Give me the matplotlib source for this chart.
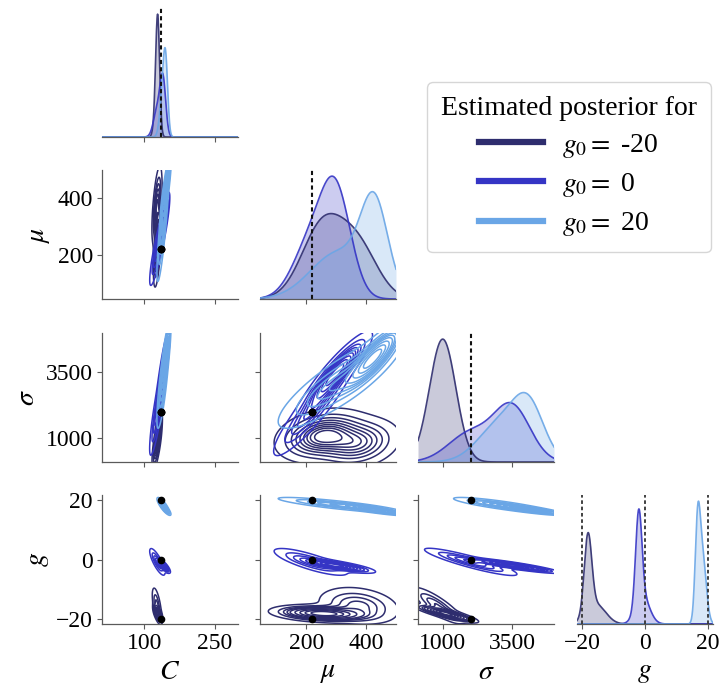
import numpy as np
import matplotlib
matplotlib.use('Agg')
import matplotlib.pyplot as plt
from matplotlib.lines import Line2D

plt.rcParams['font.family'] = ['Liberation Serif', 'DejaVu Serif']
plt.rcParams['mathtext.fontset'] = 'stix'

# parameters of the corner plot
param_labels = [r'$C$', r'$\mu$', r'$\sigma$', r'$g$']
limits = [(10, 300), (45, 500), (100, 5000), (-21.7, 21.7)]
ticks = [[100, 250], [200, 400], [1000, 3500], [-20, 0, 20]]

# true parameter values (g0 differs per run)
true_C = 135
true_mu = 220
true_sigma = 2000
g0_values = [-20, 0, 20]

series_labels = [r'$g_0 =$ -20', r'$g_0 =$ 0', r'$g_0 =$ 20']
colors = ['#2e2d6e', '#3535c5', '#6aa6e6']

# estimated posteriors, each as a two-component gaussian mixture over (C, mu, sigma, g)
weights_m20 = [0.62, 0.38]
means_m20 = [[129, 255, 1100, -18.2], [127, 375, 800, -15.5]]
sds_m20 = [[4, 70, 450, 1.2], [5, 65, 450, 3.0]]
corr_m20 = [[1.0, 0.6, 0.7, -0.6],
            [0.6, 1.0, 0.25, -0.25],
            [0.7, 0.25, 1.0, -0.85],
            [-0.6, -0.25, -0.85, 1.0]]

weights_0 = [0.6, 0.4]
means_0 = [[140, 300, 3500, -2.0], [128, 215, 2000, -0.8]]
sds_0 = [[6, 50, 650, 1.0], [8, 60, 800, 2.2]]
corr_0 = [[1.0, 0.85, 0.85, -0.8],
          [0.85, 1.0, 0.9, -0.8],
          [0.85, 0.9, 1.0, -0.9],
          [-0.8, -0.8, -0.9, 1.0]]

weights_20 = [0.46, 0.54]
means_20 = [[146, 428, 4100, 16.8], [140, 310, 3100, 18.3]]
sds_20 = [[4.5, 45, 550, 0.8], [6, 95, 800, 1.2]]
corr_20 = [[1.0, 0.85, 0.8, -0.8],
           [0.85, 1.0, 0.85, -0.85],
           [0.8, 0.85, 1.0, -0.85],
           [-0.8, -0.85, -0.85, 1.0]]

posteriors = [
    (weights_m20, means_m20, sds_m20, corr_m20),
    (weights_0, means_0, sds_0, corr_0),
    (weights_20, means_20, sds_20, corr_20),
]


def fix_corr(c):
    c = np.asarray(c, float)
    w, v = np.linalg.eigh(c)
    w = np.clip(w, 0.02, None)
    c = v @ np.diag(w) @ v.T
    d = np.sqrt(np.diag(c))
    return c / np.outer(d, d)


def marginal_1d(post, i, x):
    w, m, s, _ = post
    out = np.zeros_like(x)
    for wk, mk, sk in zip(w, m, s):
        out += wk * np.exp(-0.5 * ((x - mk[i]) / sk[i]) ** 2) / (sk[i] * np.sqrt(2 * np.pi))
    return out


def marginal_2d(post, i, j, X, Y):
    w, m, s, c = post
    c = fix_corr(c)
    out = np.zeros_like(X)
    for wk, mk, sk in zip(w, m, s):
        cov = np.array([[sk[i] ** 2, c[i, j] * sk[i] * sk[j]],
                        [c[i, j] * sk[i] * sk[j], sk[j] ** 2]])
        inv = np.linalg.inv(cov)
        dx, dy = X - mk[i], Y - mk[j]
        q = inv[0, 0] * dx * dx + 2 * inv[0, 1] * dx * dy + inv[1, 1] * dy * dy
        out += wk * np.exp(-0.5 * q) / (2 * np.pi * np.sqrt(np.linalg.det(cov)))
    return out


def iso_levels(z, props):
    vals = np.sort(z.ravel())[::-1]
    cum = np.cumsum(vals) / vals.sum()
    idx = np.searchsorted(cum, 1 - np.asarray(props))
    return np.unique(np.take(vals, idx, mode='clip'))


def grid_range(post, i):
    _, m, s, _ = post
    lo = min(mk[i] - 4 * sk[i] for mk, sk in zip(m, s))
    hi = max(mk[i] + 4 * sk[i] for mk, sk in zip(m, s))
    return lo, hi


def true_values(g0):
    return [true_C, true_mu, true_sigma, g0]


fig = plt.figure(figsize=(7.23, 6.87), dpi=100)
W, H = 723, 687
col_left = [102, 260, 418, 577]
row_top = [8, 170, 333, 495]
aw, ah = 136, 129
spine_col = '#5a5a5a'
n = 4

for r in range(n):
    for c in range(r + 1):
        ax = fig.add_axes([col_left[c] / W, 1 - (row_top[r] + ah) / H, aw / W, ah / H])
        for side in ['top', 'right']:
            ax.spines[side].set_visible(False)
        for side in ['left', 'bottom']:
            ax.spines[side].set_color(spine_col)
            ax.spines[side].set_linewidth(0.9)
        ax.tick_params(colors=spine_col, labelcolor='black', length=3.5, width=0.8,
                       labelsize=17, pad=3)
        ax.set_xlim(limits[c])
        ax.set_xticks(ticks[c])

        if r == c:
            x = np.linspace(limits[c][0], limits[c][1], 500)
            peak = 0
            for post, col in zip(posteriors, colors):
                d = marginal_1d(post, c, x)
                peak = max(peak, d.max())
                ax.fill_between(x, 0, d, color=col, alpha=0.25, lw=0)
                ax.plot(x, d, color=col, lw=1.2, alpha=0.9)
            ax.set_ylim(0, peak * 1.05)
            ax.spines['left'].set_visible(False)
            ax.set_yticks([])
            if c == 3:
                for g0 in g0_values:
                    ax.axvline(g0, color='#333333', ls=(0, (2, 1.5)), lw=1.3)
            else:
                ax.axvline(true_values(0)[c], color='#111111', ls=(0, (2, 1.5)), lw=1.5)
        else:
            ax.set_ylim(limits[r])
            ax.set_yticks(ticks[r])
            for post, col in zip(posteriors, colors):
                xlo, xhi = grid_range(post, c)
                ylo, yhi = grid_range(post, r)
                X, Y = np.meshgrid(np.linspace(xlo, xhi, 260), np.linspace(ylo, yhi, 260))
                Z = marginal_2d(post, c, r, X, Y)
                ax.contour(X, Y, Z, levels=iso_levels(Z, np.linspace(0.05, 1, 10)),
                           colors=[col], linewidths=1.1)
            for g0 in g0_values:
                tv = true_values(g0)
                ax.plot(tv[c], tv[r], 'o', color='black', ms=4.5, zorder=5)

        if r < n - 1:
            ax.set_xticklabels([])
        else:
            ax.set_xlabel(param_labels[c], fontsize=20, labelpad=4)
        if c > 0 or r == 0:
            if r != c:
                ax.set_yticklabels([])
        else:
            ax.set_ylabel(param_labels[r], fontsize=20, labelpad=4)

handles = [Line2D([0], [0], color=col, lw=4.5) for col in colors]
leg = fig.legend(handles, series_labels, title='Estimated posterior for',
                 loc='upper left', bbox_to_anchor=(427 / W, 1 - 82 / H),
                 borderaxespad=0, fontsize=20, title_fontsize=20, handlelength=2.3,
                 handletextpad=0.7, frameon=True, fancybox=True, edgecolor='#cccccc',
                 borderpad=0.5, labelspacing=0.4)

fig.savefig('out.png', dpi=100)
